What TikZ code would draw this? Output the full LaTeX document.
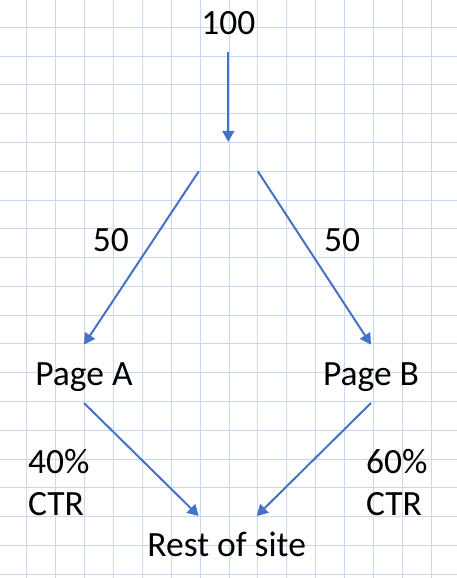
\documentclass[tikz,border=0pt]{standalone}
\usepackage{fontspec}
\setmainfont{Carlito}
\usetikzlibrary{arrows.meta}
\definecolor{gridblue}{RGB}{198,217,241}
\definecolor{flowblue}{RGB}{68,114,196}
\tikzset{gridline/.style={gridblue, line width=1pt}}
\tikzset{flow/.style={flowblue, line width=2pt, -{Triangle[length=11pt, width=12pt]}}}
\tikzset{txt/.style={font=\fontsize{35.5}{41.7}\selectfont, inner sep=0pt, anchor=base}}
\tikzset{page/.style={txt, text height=23pt, text depth=0pt, inner xsep=0pt, inner ysep=17.5pt}}
\tikzset{split/.style={inner sep=0pt, minimum width=58.5pt, minimum height=29pt}}

\begin{document}
\begin{tikzpicture}[x=1pt, y=-1pt]
\useasboundingbox (0,0) rectangle (457,578);
\foreach \i in {0,...,14} \draw[gridline] (26.7+28.9*\i,0) -- (26.7+28.9*\i,578);
\foreach \j in {0,...,19} \draw[gridline] (0,27.3+28.79*\j) -- (457,27.3+28.79*\j);
\node[page] (total) at (228.3,34.7) {100};
\node[split] (fork) at (228.3,156.5) {};
\node[page] (pageA) at (84,385.3) {Page A};
\node[page] (pageB) at (371,385.3) {Page B};
\node[page] (rest) at (226.7,556.7) {Rest of site};
\node[txt] (shareA) at (110.8,251.7) {50};
\node[txt] (shareB) at (342.2,251.7) {50};
\node[txt, anchor=base west, align=left] (ctrA) at (28,515) {40\%\\CTR};
\node[txt, anchor=base west, align=left] (ctrB) at (366,515) {60\%\\CTR};
\draw[flow] (total.south) -- (fork.north);
\draw[flow] (fork.south west) -- (pageA.north);
\draw[flow] (fork.south east) -- (pageB.north);
\draw[flow] (pageA.south) -- ([xshift=-28pt]rest.north);
\draw[flow] (pageB.south) -- ([xshift=30pt]rest.north);
\end{tikzpicture}
\end{document}
